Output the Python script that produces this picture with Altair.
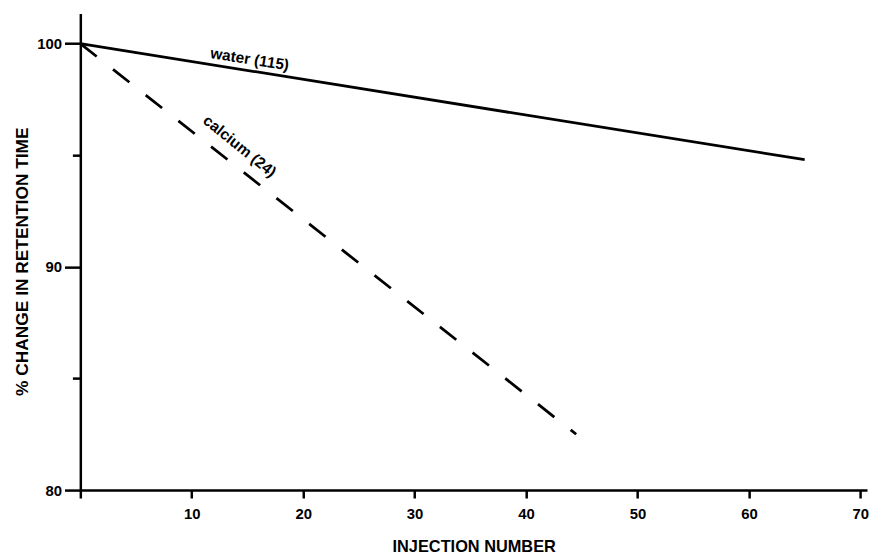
import altair as alt
import pandas as pd

# Data
water_x = [0, 65]
water_y = [100, 94.8]
calcium_x = [0, 44.5]
calcium_y = [100, 82.5]

label_text = ["water (115)", "calcium (24)"]
label_x = [15.2, 14.3]
label_y = [99.3, 95.4]
label_angle = [9, 39]

x_ticks = [0, 10, 20, 30, 40, 50, 60, 70]
y_ticks = [80, 85, 90, 95, 100]

water = pd.DataFrame({"x": water_x, "y": water_y})
calcium = pd.DataFrame({"x": calcium_x, "y": calcium_y})

FONT = "Liberation Sans"

xscale = alt.Scale(domain=[0, 70.6], nice=False, zero=False)
yscale = alt.Scale(domain=[80, 101.35], nice=False, zero=False)

xaxis = alt.Axis(
    title="INJECTION NUMBER", values=x_ticks, grid=False,
    labelExpr="datum.value == 0 ? '' : datum.label",
    domainColor="black", domainWidth=2.5, tickColor="black", tickWidth=2.5,
    tickSize=8, labelPadding=9, labelFontSize=15, labelFontWeight="bold",
    labelFont=FONT, labelColor="black", titleFont=FONT, titleFontSize=16.5,
    titleFontWeight="bold", titleColor="black", titlePadding=17,
)
yaxis = alt.Axis(
    title="% CHANGE IN RETENTION TIME", values=y_ticks, grid=False,
    labelExpr="datum.value % 10 == 0 ? datum.label : ''",
    domainColor="black", domainWidth=2.5, tickColor="black", tickWidth=2.5,
    tickSize={"condition": {"test": "datum.value % 10 == 0", "value": 16}, "value": 8},
    labelPadding=3, labelFontSize=15, labelFontWeight="bold",
    labelFont=FONT, labelColor="black", titleFont=FONT, titleFontSize=17.5,
    titleFontWeight="bold", titleColor="black", titlePadding=5, titleY=250,
)

w = alt.Chart(water).mark_line(color="black", strokeWidth=2.8).encode(
    x=alt.X("x:Q", scale=xscale, axis=xaxis),
    y=alt.Y("y:Q", scale=yscale, axis=yaxis),
)
c = alt.Chart(calcium).mark_line(color="black", strokeWidth=2.8, strokeDash=[21, 21]).encode(
    x=alt.X("x:Q", scale=xscale),
    y=alt.Y("y:Q", scale=yscale),
)

labels = pd.DataFrame({"t": label_text, "x": label_x, "y": label_y, "a": label_angle})
texts = [
    alt.Chart(labels.iloc[[i]]).mark_text(
        font=FONT, fontSize=15.5, fontWeight="bold", color="black",
        angle=int(label_angle[i]), align="center", baseline="middle",
    ).encode(x=alt.X("x:Q", scale=xscale), y=alt.Y("y:Q", scale=yscale), text="t:N")
    for i in range(len(label_text))
]

chart = alt.layer(w, c, *texts).properties(
    width=794, height=481,
    autosize=alt.AutoSizeParams(type="none"),
    padding={"left": 73, "top": 3, "right": 4, "bottom": 66},
    background="white",
).configure_view(stroke=None)

chart.save("out.html", embed_options={"renderer": "svg", "actions": False})
